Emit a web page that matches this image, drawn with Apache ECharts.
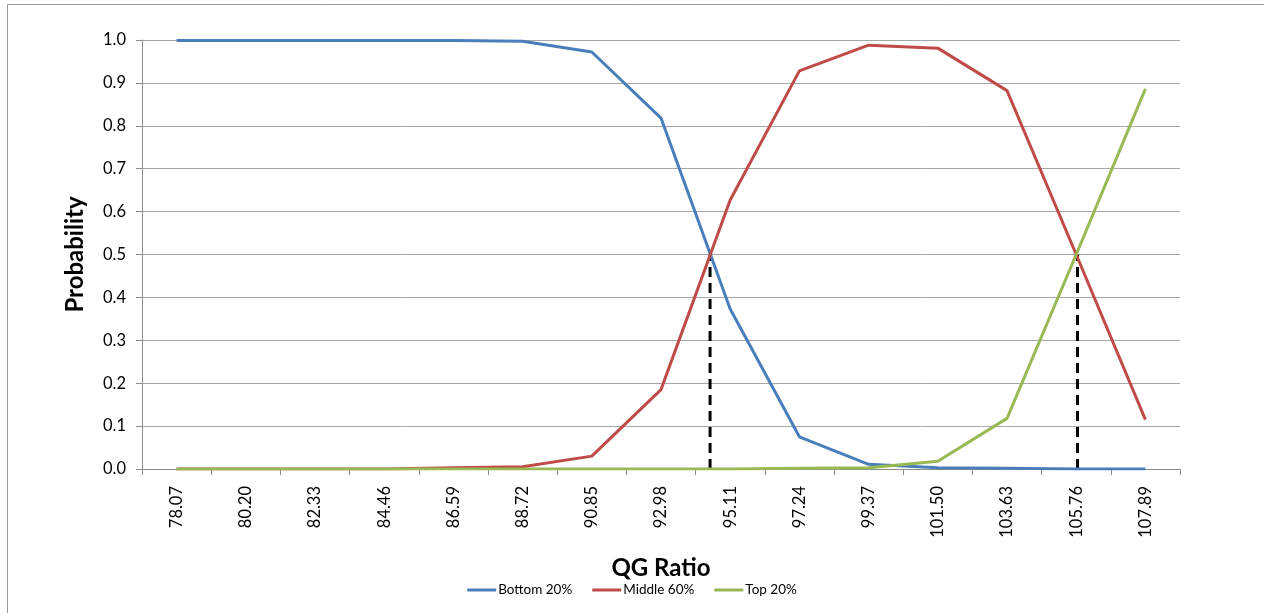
<!DOCTYPE html>
<html>
<head>
<meta charset="utf-8">
<script src="https://cdn.jsdelivr.net/npm/echarts@6/dist/echarts.min.js"></script>
<style>
html,body{margin:0;padding:0;background:#fff;}
#chart{width:1264px;height:613px;}
</style>
</head>
<body>
<div id="chart"></div>
<script>
const categories = ['78.07','80.20','82.33','84.46','86.59','88.72','90.85','92.98','95.11','97.24','99.37','101.50','103.63','105.76','107.89'];
const bottom20 = [0.999, 0.999, 0.999, 0.999, 0.999, 0.997, 0.972, 0.818, 0.373, 0.075, 0.011, 0.003, 0.002, 0.000, 0.000];
const middle60 = [0.000, 0.000, 0.000, 0.000, 0.003, 0.005, 0.030, 0.185, 0.627, 0.928, 0.988, 0.981, 0.882, 0.500, 0.115];
const top20    = [0.000, 0.000, 0.000, 0.000, 0.000, 0.000, 0.000, 0.000, 0.000, 0.002, 0.003, 0.018, 0.118, 0.500, 0.886];
const seriesNames = ['Bottom 20%', 'Middle 60%', 'Top 20%'];
const yTicks = [0.0, 0.1, 0.2, 0.3, 0.4, 0.5, 0.6, 0.7, 0.8, 0.9, 1.0];
// QG ratio where the dashed cut-off markers sit, and their height
const cutoffQG = [94.49, 105.80];
const cutoffProb = 0.5;
const qgStep = 2.13;

const chart = echarts.init(document.getElementById('chart'));
const font = 'Lato, "Open Sans", sans-serif';
const colors = ['#4A7EBB', '#BE4B48', '#98B954'];

const mainSeries = [bottom20, middle60, top20].map((d, i) => ({
  name: seriesNames[i],
  type: 'line',
  data: d,
  symbol: 'none',
  xAxisIndex: 0,
  yAxisIndex: 0,
  lineStyle: { color: colors[i], width: 3 },
  itemStyle: { color: colors[i] },
  z: 3
}));

const dashSeries = cutoffQG.map(q => ({
  type: 'line',
  xAxisIndex: 1,
  yAxisIndex: 0,
  symbol: 'none',
  data: [[q, 0], [q, cutoffProb]],
  lineStyle: { color: '#000', width: 3, type: [10, 6] },
  z: 2,
  silent: true
}));

chart.setOption({
  animation: false,
  backgroundColor: '#fff',
  graphic: [{
    type: 'rect',
    shape: { x: 7.5, y: 4.5, width: 1300, height: 700 },
    style: { fill: 'none', stroke: '#9a9a9a', lineWidth: 1 },
    silent: true
  }],
  grid: { left: 142, right: 84, top: 40, bottom: 144, containLabel: false },
  legend: {
    data: seriesNames,
    bottom: 11,
    left: 'center',
    itemWidth: 29,
    itemHeight: 3,
    itemGap: 20,
    icon: 'rect',
    textStyle: { fontFamily: font, fontSize: 13.5, color: '#000', padding: [0, 0, 0, -3] }
  },
  xAxis: [{
    type: 'category',
    data: categories,
    boundaryGap: true,
    name: 'QG Ratio',
    nameLocation: 'middle',
    nameGap: 87,
    nameTextStyle: { fontFamily: font, fontSize: 24, fontWeight: 'bold', color: '#000' },
    axisLine: { lineStyle: { color: '#8c8c8c', width: 1 } },
    axisTick: { show: true, length: 6, lineStyle: { color: '#8c8c8c' } },
    axisLabel: { rotate: 90, margin: 17, fontFamily: font, fontSize: 16.5, color: '#000' },
    splitLine: { show: false }
  }, {
    type: 'value',
    min: parseFloat(categories[0]) - qgStep / 2,
    max: parseFloat(categories[categories.length - 1]) + qgStep / 2,
    show: false,
    splitLine: { show: false }
  }],
  yAxis: [{
    type: 'value',
    min: 0,
    max: 1,
    interval: 0.1,
    name: 'Probability',
    nameLocation: 'middle',
    nameGap: 55,
    nameTextStyle: { fontFamily: font, fontSize: 24, fontWeight: 'bold', color: '#000' },
    axisLine: { show: true, lineStyle: { color: '#8c8c8c', width: 1 } },
    axisTick: { show: true, length: 6, lineStyle: { color: '#8c8c8c' } },
    axisLabel: {
      margin: 16, fontFamily: font, fontSize: 16.5, color: '#000',
      formatter: v => (Math.round(v * 10) / 10).toFixed(1)
    },
    splitLine: { show: true, lineStyle: { color: '#a6a6a6', width: 1 } }
  }],
  series: mainSeries.concat(dashSeries)
});
</script>
</body>
</html>
